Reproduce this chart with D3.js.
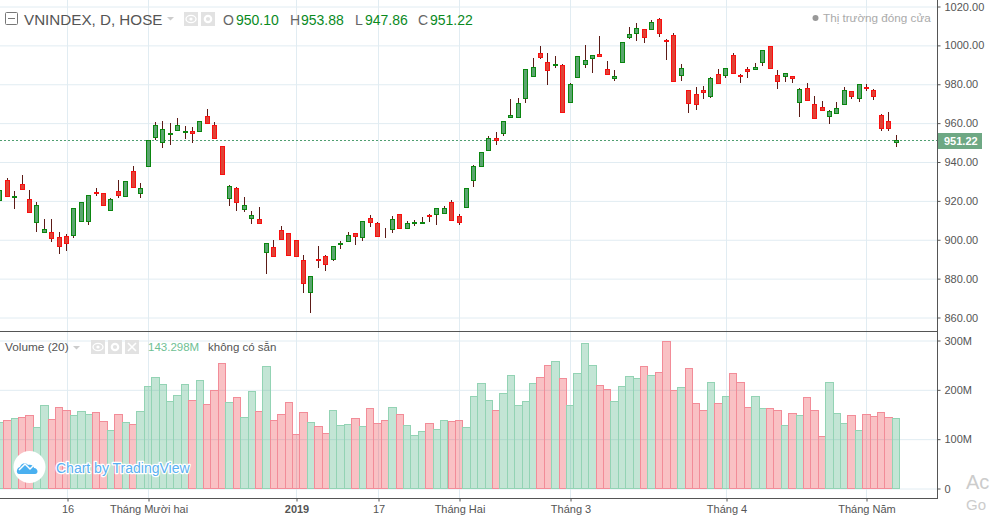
<!DOCTYPE html>
<html><head><meta charset="utf-8">
<script src="https://cdn.jsdelivr.net/npm/d3@7/dist/d3.min.js"></script>
<style>html,body{margin:0;padding:0;background:#fff;overflow:hidden}svg{display:block}text{font-family:"Liberation Sans",Arial,sans-serif}</style>
</head><body><svg id="c" width="990" height="517"></svg>
<script>
const opens=[920.7,930.9,922.2,928.9,921.2,909.2,904.1,904.2,901.2,901.7,902.7,909.9,909.9,924.8,923.8,915.4,925.3,922.3,935.3,924.3,
937.7,953.1,950.5,954.6,956.7,955.2,956.2,956.2,963.9,958.8,948.0,921.7,926.4,915.6,911.4,910.9,893.9,896.5,904.8,903.7,
900.1,889.8,872.9,890.3,891.4,890.3,898.0,899.1,903.7,901.2,911.4,908.4,902.7,905.3,913.0,905.8,908.4,908.8,912.5,913.5,
914.0,919.2,912.0,917.1,930.5,937.7,946.4,952.1,954.7,962.9,963.4,972.7,984.0,996.3,991.7,989.7,989.7,971.1,983.5,990.2,
993.3,995.8,988.1,983.0,991.2,1004.1,1006.6,1008.2,1008.2,1013.8,1003.0,1005.1,985.0,976.8,975.2,976.8,973.7,985.5,985.0,994.8,
985.0,987.6,988.1,991.7,999.9,985.0,984.5,984.5,971.1,978.3,969.6,968.5,963.9,965.0,969.6,976.3,972.7,978.8,976.8,964.4,961.3,950.10];
const highs=[925.5,931.7,925.0,933.2,925.5,919.2,910.6,910.6,903.9,903.2,916.1,919.2,922.8,926.5,923.8,921.7,930.7,930.0,937.9,929.0,
951.4,960.5,961.0,960.0,962.5,958.4,957.9,961.3,967.2,960.5,948.0,928.4,926.9,921.9,915.0,916.8,898.1,899.8,907.0,903.7,
900.1,892.4,881.6,896.7,891.9,897.0,899.6,904.2,903.7,909.9,912.5,908.9,906.3,912.0,913.5,909.9,910.4,911.6,913.5,916.1,
917.6,920.2,913.0,926.4,938.7,945.4,953.6,955.2,961.3,972.3,972.7,987.6,993.3,999.9,996.3,994.3,990.2,980.9,994.3,1000.4,
994.8,1004.6,992.2,987.1,1001.5,1009.7,1011.3,1008.2,1013.3,1014.3,1003.5,1006.6,990.2,976.8,978.8,979.3,983.5,988.1,988.6,996.3,
985.5,989.1,990.7,997.4,999.9,987.1,986.0,984.5,978.3,980.9,973.7,971.6,966.5,971.1,978.8,976.3,979.9,979.9,977.3,964.9,965.5,953.88];
const lows=[920.7,922.3,915.7,925.7,914.5,904.1,904.1,898.9,892.8,894.3,901.0,909.9,907.5,922.4,917.4,914.9,921.6,922.3,926.9,921.6,
937.7,951.4,947.3,948.8,956.7,951.8,949.8,956.2,960.3,951.6,933.6,917.4,914.9,914.4,908.2,908.4,882.5,891.2,900.6,892.4,
891.2,872.7,862.4,885.5,884.0,889.1,895.3,899.1,897.4,899.4,906.6,901.7,901.0,903.6,906.3,905.8,907.2,908.4,909.2,907.7,
914.0,910.4,907.7,916.4,927.2,937.7,946.4,948.8,953.6,962.9,963.4,970.4,983.5,993.1,979.7,988.4,965.5,971.1,983.5,988.4,
985.9,994.3,984.8,981.8,991.2,1003.2,1002.2,1001.3,1008.2,1004.4,992.4,981.9,981.6,965.0,967.0,972.5,973.0,980.9,983.1,986.0,
980.7,983.1,987.1,989.5,988.6,977.3,981.2,980.7,963.2,972.1,962.4,966.0,959.6,965.0,969.6,972.5,971.1,976.3,972.1,956.2,956.2,947.86];
const closes=[925.5,922.3,922.3,926.2,914.5,918.1,905.3,901.0,897.0,898.1,916.1,919.2,922.8,924.3,918.1,921.2,923.1,930.0,926.9,926.4,
951.4,958.8,957.2,954.7,958.8,955.7,954.7,961.3,960.3,952.1,933.6,927.4,919.2,918.1,912.5,908.4,898.1,891.7,900.6,892.4,
891.7,878.0,881.1,889.8,887.3,897.0,898.1,902.7,901.7,909.9,908.9,901.7,902.2,910.9,906.3,908.4,908.9,908.9,912.0,916.1,
916.1,910.4,908.9,926.4,937.7,945.4,952.6,951.1,961.3,964.4,970.6,987.6,989.1,994.1,987.1,990.2,965.5,979.9,994.3,992.7,
994.8,994.3,985.5,984.5,1001.5,1005.6,1008.7,1004.1,1011.8,1006.6,1002.5,981.9,988.6,970.1,969.6,975.8,983.0,980.9,988.6,986.0,
984.5,986.9,989.1,997.4,988.6,981.9,986.0,983.0,977.3,972.1,962.4,966.5,966.0,968.0,976.8,974.2,979.9,978.3,974.2,957.7,957.7,951.22];
const volumes=[134.2,138.2,142.3,144.3,148.3,124.1,168.6,140.3,164.5,158.5,148.3,156.4,150.4,154.4,136.2,118.0,150.4,134.2,130.1,156.4,
207.0,225.2,211.1,176.7,188.8,211.1,178.7,219.2,170.6,198.9,253.5,174.6,184.8,144.3,196.9,156.4,247.5,138.2,150.4,174.6,
109.9,154.4,134.2,126.1,111.9,158.5,128.1,130.1,142.3,126.1,162.5,132.2,138.2,164.5,150.4,128.1,107.9,116.0,132.2,120.0,
138.2,136.2,138.2,124.1,186.8,213.1,178.7,158.5,192.8,229.3,168.6,176.7,213.1,225.2,249.5,257.6,223.2,168.6,233.3,294.0,
249.5,209.0,200.9,176.7,207.0,227.2,223.2,247.5,229.3,235.3,298.0,198.9,205.0,243.4,172.6,158.5,215.1,172.6,186.8,233.3,
215.1,164.5,186.8,162.5,162.5,158.5,128.1,152.4,148.3,184.8,158.5,105.9,215.1,152.4,132.2,148.3,118.0,150.4,146.3,154.4,144.3,143.298];
const priceTicks=[860,880,900,920,940,960,980,1000,1020];
const volumeTicks=[0,100,200,300];
const timeTickIndex=[9,20,40,51,62,77,98,117];
const timeTickLabels=["16","Tháng Mười hai","2019","17","Tháng Hai","Tháng 3","Tháng 4","Tháng Năm"];
const lastPrice=951.22;

const svg=d3.select("#c");
const W=937.5,BOT=498.5,SEP=331.5;
const x=d3.scaleLinear().domain([0,121]).range([-0.6,895.6]);
const y=d3.scaleLinear().domain([860,1020]).range([317.5,6.5]);
const yv=d3.scaleLinear().domain([0,300]).range([488.5,340.5]);
const px=i=>Math.round(x(i))+0.5;
const gx=i=>Math.round(x(i)+0.5)+0.5;
const GRID="#e1ecf2",AX="#555",TXT="#555";

// grid
const gridV=svg.append("g");
timeTickIndex.forEach(i=>gridV.append("line").attr("x1",gx(i)).attr("x2",gx(i)).attr("y1",0).attr("y2",BOT).attr("stroke",GRID));
const gp=svg.append("g").attr("transform",`translate(${W},0)`).call(d3.axisLeft(y).tickValues(priceTicks).tickSize(W).tickFormat(""));
const gv=svg.append("g").attr("transform",`translate(${W},0)`).call(d3.axisLeft(yv).tickValues(volumeTicks).tickSize(W).tickFormat(""));
[gp,gv].forEach(g=>{g.select(".domain").remove();g.selectAll("line").attr("stroke",GRID);});

// volume bars
const idx=d3.range(closes.length);
const up=i=>closes[i]>=opens[i];
svg.append("g").selectAll("rect").data(idx).join("rect")
 .attr("x",i=>Math.round(x(i)-3.7)+0.5)
 .attr("width",i=>Math.round(x(i)+3.7)-Math.round(x(i)-3.7))
 .attr("y",i=>Math.round(yv(volumes[i]))+0.5)
 .attr("height",i=>yv(0)-Math.round(yv(volumes[i]))-0.5)
 .attr("fill",i=>up(i)?"rgba(60,170,120,0.31)":"rgba(235,40,50,0.29)")
 .attr("stroke",i=>up(i)?"#93d3b4":"#f28c98");

// price line
svg.append("line").attr("x1",0).attr("x2",W).attr("y1",Math.round(y(lastPrice))+0.5).attr("y2",Math.round(y(lastPrice))+0.5)
 .attr("stroke","#4f9e70").attr("stroke-dasharray","2,2");

// candles
const cg=svg.append("g");
cg.selectAll("line").data(idx).join("line")
 .attr("x1",px).attr("x2",px)
 .attr("y1",i=>Math.round(y(highs[i]))).attr("y2",i=>Math.round(y(lows[i])))
 .attr("stroke",i=>"#5c1a16");
cg.selectAll("rect").data(idx).join("rect")
 .attr("x",i=>px(i)-2).attr("width",4)
 .attr("y",i=>Math.round(y(Math.max(opens[i],closes[i])))+0.5)
 .attr("height",i=>Math.max(0,Math.round(y(Math.min(opens[i],closes[i])))-Math.round(y(Math.max(opens[i],closes[i])))))
 .attr("fill",i=>up(i)?"#5aa56f":"#de4437")
 .attr("stroke",i=>up(i)?"#0a860f":"#fa0f0f");

// frame
svg.append("line").attr("x1",0).attr("x2",W).attr("y1",SEP).attr("y2",SEP).attr("stroke",AX);
svg.append("line").attr("x1",0).attr("x2",W).attr("y1",BOT).attr("y2",BOT).attr("stroke",AX);
svg.append("line").attr("x1",W).attr("x2",W).attr("y1",0).attr("y2",BOT+0.5).attr("stroke",AX);

// axes
function style(g,size){g.select(".domain").remove();g.selectAll("line").attr("stroke",AX);g.selectAll("text").attr("fill",TXT).attr("font-size",size);}
const ap=svg.append("g").attr("transform",`translate(${W},0)`).call(d3.axisRight(y).tickValues(priceTicks).tickSize(3).tickPadding(4).tickFormat(d3.format(".2f")));
style(ap,11);
const av=svg.append("g").attr("transform",`translate(${W},0)`).call(d3.axisRight(yv).tickValues(volumeTicks).tickSize(3).tickPadding(4).tickFormat(d=>d?d+"M":"0"));
style(av,11);
const ab=svg.append("g").attr("transform",`translate(0,${BOT})`).call(d3.axisBottom(d3.scaleOrdinal().domain(timeTickIndex).range(timeTickIndex.map(gx))).tickValues(timeTickIndex).tickSize(3).tickPadding(4).tickFormat((d,i)=>timeTickLabels[i]));
style(ab,11);
ab.selectAll("text").filter((d,i)=>timeTickLabels[i]==="2019").attr("font-weight","bold");

// last price label
const ly=Math.round(y(lastPrice));
svg.append("rect").attr("x",938).attr("y",ly-7).attr("width",44).attr("height",16).attr("fill","#6ea884");
svg.append("text").attr("x",944).attr("y",ly+4.5).attr("fill","#fff").attr("font-weight","bold").attr("font-size",11).text(lastPrice.toFixed(2));

// legend helpers
function T(xp,yp,s,col,fs,w){return svg.append("text").attr("x",xp).attr("y",yp).attr("fill",col).attr("font-size",fs).attr("font-weight",w||"normal").text(s);}
function tri(xp,yp){svg.append("path").attr("d",`M${xp},${yp}h7l-3.5,3.5z`).attr("fill","#ccc");}
function icon(xp,yp,kind){
 svg.append("rect").attr("x",xp).attr("y",yp).attr("width",14).attr("height",14).attr("fill","#e2e2e2");
 if(kind==="eye"){svg.append("ellipse").attr("cx",xp+7).attr("cy",yp+7).attr("rx",5).attr("ry",3.6).attr("fill","none").attr("stroke","#fff").attr("stroke-width",1.3);svg.append("circle").attr("cx",xp+7).attr("cy",yp+7).attr("r",1.6).attr("fill","#fff");}
 if(kind==="gear"){svg.append("circle").attr("cx",xp+7).attr("cy",yp+7).attr("r",3.2).attr("fill","none").attr("stroke","#fff").attr("stroke-width",2.2);}
 if(kind==="x"){svg.append("path").attr("d",`M${xp+3},${yp+3}l8,8M${xp+11},${yp+3}l-8,8`).attr("stroke","#fff").attr("stroke-width",1.6);}
}
// main legend
svg.append("rect").attr("x",5.5).attr("y",12.5).attr("width",12).attr("height",12).attr("rx",1).attr("fill","#fff").attr("stroke","#777");
svg.append("line").attr("x1",8).attr("x2",15).attr("y1",18.5).attr("y2",18.5).attr("stroke","#777");
T(24,24.5,"VNINDEX, D, HOSE","#555",15.2);
tri(167,17);
icon(184,12,"eye");icon(201,12,"gear");
const G="#0a8a1e";
T(223,25,"O","#666",14);T(236,25,"950.10",G,14);
T(290,25,"H","#666",14);T(301,25,"953.88",G,14);
T(355,25,"L","#666",14);T(365,25,"947.86",G,14);
T(418,25,"C","#666",14);T(430,25,"951.22",G,14);
svg.append("circle").attr("cx",815.5).attr("cy",18).attr("r",3).attr("fill","#999");
T(823,22,"Thị trường đóng cửa","#aaa",11.7);
// volume legend
T(5,351,"Volume (20)","#555",11.8);
tri(73,346);
icon(91,340,"eye");icon(108,340,"gear");icon(125,340,"x");
T(148,351,"143.298M","#6fbf94",11.5);
T(208,351,"không có sẵn","#555",11.5);
// logo
svg.append("circle").attr("cx",29.5).attr("cy",467).attr("r",16).attr("fill","#fff");
svg.append("path").attr("d","M19,474c-3,0-3,-6,1,-7c1,-4,6,-5,8,-2c3,-1,6,1,6,3c4,0,5,6,1,6z").attr("fill","#4ab0f0");
svg.append("path").attr("d","M19,470l6,-6l5,5l5,-5l5,6").attr("fill","none").attr("stroke","#fff").attr("stroke-width",1.5);
T(56,472.5,"Chart by TradingView","#5ab0f2",14).attr("stroke","#fff").attr("stroke-width",2.5).attr("paint-order","stroke").attr("stroke-linejoin","round");
// overlay
T(966,489,"Ac","#ccc",20);
T(966,510,"Go","#ccc",15);
</script></body></html>
